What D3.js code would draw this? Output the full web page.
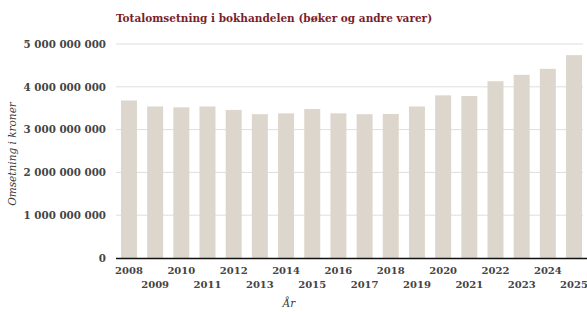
<!DOCTYPE html>
<html>
<head>
<meta charset="utf-8">
<script src="https://cdn.jsdelivr.net/npm/d3@7"></script>
<style>
  body { margin: 0; background: #fff; }
  svg { display: block; }
  .tick text { font-family: "DejaVu Serif", serif; }
</style>
</head>
<body>
<div id="chart"></div>
<script>
var years = ["2008", "2009", "2010", "2011", "2012", "2013", "2014", "2015", "2016",
             "2017", "2018", "2019", "2020", "2021", "2022", "2023", "2024", "2025"];
var turnover = [3680000000, 3540000000, 3520000000, 3540000000, 3460000000, 3360000000,
                3380000000, 3480000000, 3380000000, 3360000000, 3365000000, 3540000000,
                3800000000, 3785000000, 4130000000, 4280000000, 4420000000, 4740000000];
var yTicks = [0, 1000000000, 2000000000, 3000000000, 4000000000, 5000000000];

var width = 587, height = 312;
var margin = { left: 116, right: 0, top: 44, bottom: 54 };

var svg = d3.select("#chart").append("svg")
    .attr("width", width)
    .attr("height", height);

var x = d3.scaleBand()
    .domain(years)
    .range([margin.left, width - margin.right])
    .paddingInner(0.39)
    .paddingOuter(0.19);

var y = d3.scaleLinear()
    .domain([0, 5000000000])
    .range([height - margin.bottom, margin.top]);

var fmt = function (d) {
    return d3.format(",")(d).replace(/,/g, " ");
};

// gridlines
svg.append("g")
    .selectAll("line")
    .data(yTicks.slice(1))
    .join("line")
    .attr("x1", margin.left)
    .attr("x2", width - 4)
    .attr("y1", function (d) { return y(d); })
    .attr("y2", function (d) { return y(d); })
    .attr("stroke", "#dedede")
    .attr("stroke-width", 1);

// y axis labels
var yAxis = d3.axisLeft(y)
    .tickValues(yTicks)
    .tickFormat(fmt)
    .tickSize(0)
    .tickPadding(10);

svg.append("g")
    .attr("transform", "translate(" + margin.left + ",0)")
    .call(yAxis)
    .call(function (g) { g.select(".domain").remove(); })
    .selectAll("text")
    .attr("font-size", 10.3)
    .attr("font-weight", "bold")
    .attr("fill", "#444");

// bars
svg.append("g")
    .selectAll("rect")
    .data(years)
    .join("rect")
    .attr("x", function (d) { return x(d); })
    .attr("width", x.bandwidth())
    .attr("y", function (d, i) { return y(turnover[i]); })
    .attr("height", function (d, i) { return y(0) - y(turnover[i]); })
    .attr("fill", "#dcd6cd");

// baseline
svg.append("line")
    .attr("x1", margin.left)
    .attr("x2", width)
    .attr("y1", y(0) + 0.5)
    .attr("y2", y(0) + 0.5)
    .attr("stroke", "#111")
    .attr("stroke-width", 1.5);

// x axis labels, staggered
var xAxis = d3.axisBottom(x).tickSize(0).tickPadding(9);
svg.append("g")
    .attr("transform", "translate(0," + y(0) + ")")
    .call(xAxis)
    .call(function (g) { g.select(".domain").remove(); })
    .selectAll("text")
    .attr("font-size", 10)
    .attr("font-weight", "bold")
    .attr("fill", "#444")
    .attr("dy", function (d, i) { return i % 2 === 0 ? "0.71em" : "2.1em"; });

// title
svg.append("text")
    .attr("x", margin.left)
    .attr("y", 22)
    .attr("font-family", "DejaVu Serif, serif")
    .attr("font-weight", "bold")
    .attr("font-size", 10.5)
    .attr("fill", "#7b1e2b")
    .text("Totalomsetning i bokhandelen (bøker og andre varer)");

// y title
svg.append("text")
    .attr("transform", "translate(16," + ((y(0) + y(5000000000)) / 2 + 3) + ") rotate(-90)")
    .attr("text-anchor", "middle")
    .attr("font-family", "DejaVu Serif, serif")
    .attr("font-style", "italic")
    .attr("font-size", 10.5)
    .attr("fill", "#3a3a3a")
    .text("Omsetning i kroner");

// x title
svg.append("text")
    .attr("x", 289)
    .attr("y", 307)
    .attr("text-anchor", "middle")
    .attr("font-family", "DejaVu Serif, serif")
    .attr("font-style", "italic")
    .attr("font-size", 10.5)
    .attr("fill", "#3a3a3a")
    .text("År");
</script>
</body>
</html>
